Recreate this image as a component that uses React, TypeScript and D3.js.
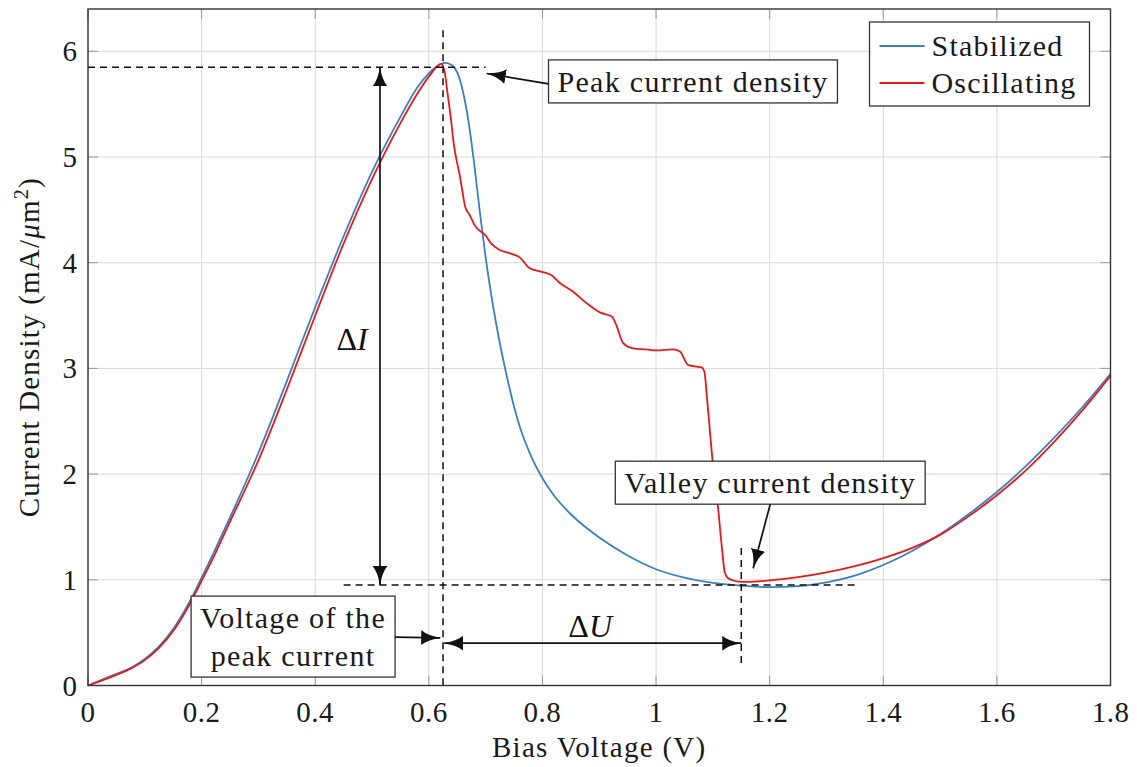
import React, { useRef, useEffect } from 'react';
import * as d3 from 'd3';

// Stabilized (blue) curve
const stabX = [0, 0.05, 0.075, 0.1, 0.125, 0.15, 0.175, 0.2, 0.225, 0.25, 0.3, 0.35, 0.4, 0.45, 0.5, 0.55, 0.58, 0.6, 0.615, 0.628, 0.64, 0.65, 0.66, 0.67, 0.68, 0.69, 0.7, 0.71, 0.72, 0.735, 0.75, 0.76, 0.78, 0.8, 0.82, 0.85, 0.88, 0.9, 0.95, 1.0, 1.05, 1.1, 1.15, 1.2, 1.25, 1.3, 1.35, 1.4, 1.45, 1.5, 1.55, 1.6, 1.65, 1.7, 1.75, 1.8];
const stabY = [0, 0.11, 0.165, 0.25, 0.37, 0.535, 0.755, 1.02, 1.3, 1.59, 2.2, 2.88, 3.58, 4.25, 4.86, 5.38, 5.66, 5.79, 5.86, 5.89, 5.87, 5.8, 5.62, 5.33, 4.93, 4.47, 4.05, 3.69, 3.38, 2.98, 2.64, 2.45, 2.17, 1.96, 1.8, 1.62, 1.48, 1.4, 1.23, 1.1, 1.02, 0.97, 0.945, 0.93, 0.94, 0.975, 1.04, 1.14, 1.27, 1.43, 1.62, 1.83, 2.07, 2.34, 2.63, 2.95];

// Oscillating (red) curve
const oscX = [0, 0.05, 0.075, 0.1, 0.125, 0.15, 0.175, 0.2, 0.225, 0.25, 0.3, 0.35, 0.4, 0.45, 0.5, 0.55, 0.58, 0.6, 0.622, 0.628, 0.633, 0.638, 0.644, 0.655, 0.664, 0.672, 0.68, 0.701, 0.71, 0.725, 0.742, 0.76, 0.777, 0.801, 0.816, 0.83, 0.853, 0.877, 0.901, 0.922, 0.93, 0.942, 0.96, 0.983, 1.001, 1.03, 1.042, 1.057, 1.08, 1.085, 1.09, 1.1, 1.109, 1.116, 1.121, 1.128, 1.133, 1.142, 1.16, 1.2, 1.25, 1.3, 1.35, 1.4, 1.45, 1.5, 1.55, 1.6, 1.65, 1.7, 1.75, 1.8];
const oscY = [0, 0.1, 0.16, 0.24, 0.355, 0.515, 0.73, 0.99, 1.26, 1.55, 2.13, 2.8, 3.5, 4.18, 4.79, 5.32, 5.6, 5.76, 5.88, 5.8, 5.6, 5.4, 5.12, 4.81, 4.53, 4.45, 4.36, 4.25, 4.18, 4.12, 4.09, 4.05, 3.95, 3.91, 3.88, 3.81, 3.73, 3.62, 3.53, 3.49, 3.41, 3.24, 3.19, 3.18, 3.17, 3.18, 3.16, 3.03, 3.01, 2.97, 2.7, 2.1, 1.69, 1.3, 1.07, 1.01, 1.0, 0.985, 0.98, 0.995, 1.025, 1.07, 1.13, 1.205, 1.3, 1.425, 1.6, 1.8, 2.03, 2.3, 2.6, 2.93];

const xTicks = [0, 0.2, 0.4, 0.6, 0.8, 1, 1.2, 1.4, 1.6, 1.8];
const yTicks = [0, 1, 2, 3, 4, 5, 6];
const seriesNames = ['Stabilized', 'Oscillating'];
const seriesColors = ['#3a80c0', '#e41a1c'];

const W = 1137;
const H = 767;
const margin = { top: 9, right: 26.5, bottom: 81.5, left: 88 };
const FONT = 'Liberation Serif, DejaVu Serif, serif';

const App = () => {
  const ref = useRef(null);

  useEffect(() => {
    const svg = d3.select(ref.current);
    svg.selectAll('*').remove();

    const iw = W - margin.left - margin.right;
    const ih = H - margin.top - margin.bottom;
    const x = d3.scaleLinear().domain([0, 1.8]).range([margin.left, margin.left + iw]);
    const y = d3.scaleLinear().domain([0, 6.4]).range([margin.top + ih, margin.top]);

    const defs = svg.append('defs');
    defs.append('marker')
      .attr('id', 'head')
      .attr('viewBox', '0 -8 20 16')
      .attr('refX', 19)
      .attr('refY', 0)
      .attr('markerWidth', 20)
      .attr('markerHeight', 16)
      .attr('markerUnits', 'userSpaceOnUse')
      .attr('orient', 'auto-start-reverse')
      .append('path')
      .attr('d', 'M0,-7.5 Q6,-2 20,0 Q6,2 0,7.5 Z')
      .attr('fill', '#111');

    // grid
    const grid = svg.append('g');
    xTicks.forEach(t => {
      grid.append('line')
        .attr('x1', x(t)).attr('x2', x(t))
        .attr('y1', y(0)).attr('y2', y(6.4))
        .attr('stroke', '#d9d9d9').attr('stroke-width', 1);
    });
    yTicks.forEach(t => {
      grid.append('line')
        .attr('x1', x(0)).attr('x2', x(1.8))
        .attr('y1', y(t)).attr('y2', y(t))
        .attr('stroke', '#d9d9d9').attr('stroke-width', 1);
    });

    // inner ticks on all sides
    const tk = 10;
    xTicks.forEach(t => {
      grid.append('line').attr('x1', x(t)).attr('x2', x(t))
        .attr('y1', y(0)).attr('y2', y(0) - tk).attr('stroke', '#9a9a9a');
      grid.append('line').attr('x1', x(t)).attr('x2', x(t))
        .attr('y1', y(6.4)).attr('y2', y(6.4) + tk).attr('stroke', '#9a9a9a');
    });
    yTicks.forEach(t => {
      grid.append('line').attr('x1', x(0)).attr('x2', x(0) + tk)
        .attr('y1', y(t)).attr('y2', y(t)).attr('stroke', '#9a9a9a');
      grid.append('line').attr('x1', x(1.8)).attr('x2', x(1.8) - tk)
        .attr('y1', y(t)).attr('y2', y(t)).attr('stroke', '#9a9a9a');
    });

    // curves
    const line = d3.line<[number, number]>()
      .x(d => x(d[0]))
      .y(d => y(d[1]))
      .curve(d3.curveMonotoneX);

    const stab = stabX.map((v, i) => [v, stabY[i]] as [number, number]);
    const osc = oscX.map((v, i) => [v, oscY[i]] as [number, number]);

    svg.append('path').attr('d', line(stab)).attr('fill', 'none')
      .attr('stroke', seriesColors[0]).attr('stroke-width', 1.8);
    svg.append('path').attr('d', line(osc)).attr('fill', 'none')
      .attr('stroke', seriesColors[1]).attr('stroke-width', 1.8);

    // dashed guide lines
    const dash = (x1, y1, x2, y2) => svg.append('line')
      .attr('x1', x(x1)).attr('y1', y(y1)).attr('x2', x(x2)).attr('y2', y(y2))
      .attr('stroke', '#111').attr('stroke-width', 1.5).attr('stroke-dasharray', '7,5');
    dash(0, 5.85, 0.7, 5.85);
    dash(0.625, 6.2, 0.625, 0);
    dash(0.45, 0.95, 1.35, 0.95);
    dash(1.15, 1.3, 1.15, 0.2);

    // arrows
    const arrow = (x1, y1, x2, y2, both) => {
      const l = svg.append('line')
        .attr('x1', x(x1)).attr('y1', y(y1)).attr('x2', x(x2)).attr('y2', y(y2))
        .attr('stroke', '#111').attr('stroke-width', 1.7)
        .attr('marker-end', 'url(#head)');
      if (both) l.attr('marker-start', 'url(#head)');
    };
    arrow(0.514, 0.95, 0.514, 5.85, true);
    arrow(0.627, 0.40, 1.15, 0.40, true);

    // annotation boxes
    const box = (cx, cy, lines, tipX, tipY, fromSide) => {
      const g = svg.append('g');
      const t = g.append('text')
        .attr('font-family', FONT).attr('font-size', 30)
        .attr('letter-spacing', 1.3)
        .attr('text-anchor', 'middle').attr('fill', '#1a1a1a');
      const lh = 38;
      lines.forEach((s, i) => {
        t.append('tspan').attr('x', x(cx))
          .attr('y', y(cy) + 10 + (i - (lines.length - 1) / 2) * lh)
          .text(s);
      });
      const bb = (t.node() as SVGTextElement).getBBox();
      const padX = 9;
      const padY = 5;
      const rx = bb.x - padX;
      const ry = bb.y - padY;
      const rw = bb.width + padX * 2;
      const rh = bb.height + padY * 2;
      g.insert('rect', 'text')
        .attr('x', rx).attr('y', ry).attr('width', rw).attr('height', rh)
        .attr('fill', 'white').attr('stroke', '#333').attr('stroke-width', 1.3);
      let sx = x(cx);
      let sy = y(cy);
      if (fromSide === 'left') { sx = rx; sy = y(cy) + 2; }
      if (fromSide === 'right') { sx = rx + rw; sy = y(cy); }
      if (fromSide === 'bottom') { sx = x(cx); sy = ry + rh; }
      svg.append('line')
        .attr('x1', sx).attr('y1', sy).attr('x2', x(tipX)).attr('y2', y(tipY))
        .attr('stroke', '#111').attr('stroke-width', 1.7)
        .attr('marker-end', 'url(#head)');
    };
    box(1.065, 5.71, ['Peak current density'], 0.702, 5.79, 'left');
    box(1.201, 1.914, ['Valley current density'], 1.171, 1.11, 'bottom');
    box(0.361, 0.458, ['Voltage of the', 'peak current'], 0.62, 0.45, 'right');

    // delta labels
    const dI = svg.append('text').attr('font-family', FONT).attr('font-size', 32)
      .attr('text-anchor', 'middle').attr('x', x(0.465)).attr('y', y(3.28) + 11).attr('fill', '#111');
    dI.append('tspan').text('Δ');
    dI.append('tspan').attr('font-style', 'italic').text('I');
    const dU = svg.append('text').attr('font-family', FONT).attr('font-size', 32)
      .attr('text-anchor', 'middle').attr('x', x(0.884)).attr('y', y(0.563) + 11).attr('fill', '#111');
    dU.append('tspan').text('Δ');
    dU.append('tspan').attr('font-style', 'italic').text('U');

    // frame
    svg.append('rect')
      .attr('x', x(0)).attr('y', y(6.4)).attr('width', iw).attr('height', ih)
      .attr('fill', 'none').attr('stroke', '#333').attr('stroke-width', 1.4);

    // tick labels
    xTicks.forEach(t => {
      svg.append('text').attr('x', x(t)).attr('y', y(0) + 36)
        .attr('text-anchor', 'middle').attr('font-family', FONT).attr('font-size', 29)
        .attr('letter-spacing', 0.5).attr('fill', '#1a1a1a')
        .text(d3.format('~g')(t));
    });
    yTicks.forEach(t => {
      svg.append('text').attr('x', x(0) - 11).attr('y', y(t) + 10)
        .attr('text-anchor', 'end').attr('font-family', FONT).attr('font-size', 29)
        .attr('fill', '#1a1a1a')
        .text(d3.format('~g')(t));
    });

    // axis titles
    svg.append('text').attr('x', (x(0) + x(1.8)) / 2).attr('y', 757)
      .attr('text-anchor', 'middle').attr('font-family', FONT).attr('font-size', 29)
      .attr('letter-spacing', 1.3).attr('fill', '#1a1a1a')
      .text('Bias Voltage (V)');
    const yl = svg.append('text')
      .attr('transform', `translate(39, ${(y(0) + y(6.4)) / 2}) rotate(-90)`)
      .attr('text-anchor', 'middle').attr('font-family', FONT).attr('font-size', 29)
      .attr('letter-spacing', 1.2).attr('fill', '#1a1a1a');
    yl.append('tspan').text('Current Density (mA/');
    yl.append('tspan').attr('font-style', 'italic').text('μ');
    yl.append('tspan').text('m');
    yl.append('tspan').attr('dy', -11).attr('font-size', 20).text('2');
    yl.append('tspan').attr('dy', 11).text(')');

    // legend
    const lg = svg.append('g').attr('transform', `translate(${x(1.8) - 21 - 220}, ${y(6.4) + 13})`);
    lg.append('rect').attr('width', 220).attr('height', 84)
      .attr('fill', 'white').attr('stroke', '#333').attr('stroke-width', 1.3);
    seriesNames.forEach((name, i) => {
      const cy = 24 + i * 37;
      lg.append('line').attr('x1', 10).attr('x2', 55).attr('y1', cy).attr('y2', cy)
        .attr('stroke', seriesColors[i]).attr('stroke-width', 1.8);
      lg.append('text').attr('x', 62).attr('y', cy + 10)
        .attr('font-family', FONT).attr('font-size', 30).attr('letter-spacing', 1.2)
        .attr('fill', '#1a1a1a').text(name);
    });
  }, []);

  return (
    <svg ref={ref} width={W} height={H}
      style={{ position: 'absolute', left: 0, top: 0, background: 'white' }} />
  );
};

export default App;
